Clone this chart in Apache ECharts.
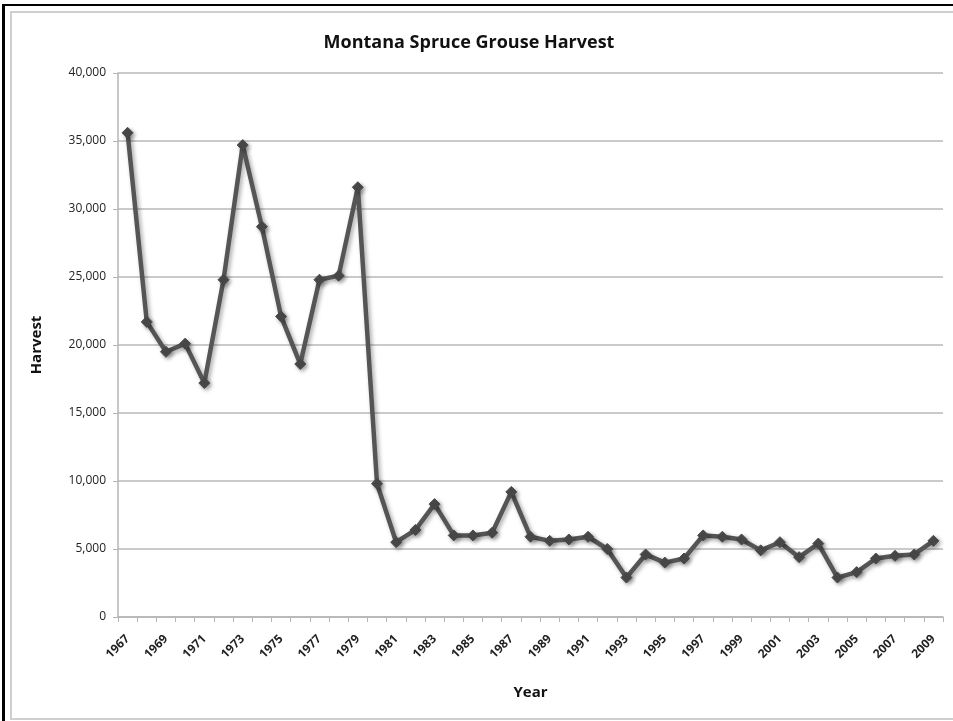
<!DOCTYPE html>
<html>
<head>
<meta charset="utf-8">
<script src="https://cdn.jsdelivr.net/npm/echarts@6/dist/echarts.min.js"></script>
<style>
  html, body { margin: 0; padding: 0; background: #fff; overflow: hidden; }
  #outer { position: absolute; left: 2px; top: 4px; width: 980px; height: 740px;
           border-left: 3px solid #000; border-top: 2px solid #000; box-sizing: border-box; }
  #frame { position: absolute; left: 10px; top: 11px; width: 980px; height: 709px;
           border: 2px solid #cfcfcf; border-right: none; box-sizing: border-box; }
  #chart { position: absolute; left: 0; top: 0; width: 953px; height: 721px; }
</style>
</head>
<body>
<div id="outer"></div>
<div id="frame"></div>
<div id="chart"></div>
<script>
// years 1967..2009
const years = [];
for (let y = 1967; y <= 2009; y++) years.push(String(y));

const harvest = [
  35600, 21700, 19500, 20100, 17200, 24800, 34700, 28700, 22100, 18600,
  24800, 25100, 31600, 9800, 5500, 6400, 8300, 6000, 6000, 6200,
  9200, 5900, 5600, 5700, 5900, 5000, 2900, 4600, 4000, 4300,
  6000, 5900, 5700, 4900, 5500, 4400, 5400, 2900, 3300, 4300,
  4500, 4600, 5600
];

const yTicks = [0, 5000, 10000, 15000, 20000, 25000, 30000, 35000, 40000];

const font = '"Open Sans", "Liberation Sans", sans-serif';

const chart = echarts.init(document.getElementById('chart'));
chart.setOption({
  animation: false,
  title: {
    text: 'Montana Spruce Grouse Harvest',
    left: 464, top: 29, textAlign: 'center',
    textStyle: { fontFamily: font, fontSize: 18, fontWeight: 'bold', color: '#111' }
  },
  grid: { left: 118, top: 73, width: 825, height: 544 },
  xAxis: {
    type: 'category',
    data: years,
    boundaryGap: true,
    name: 'Year',
    nameLocation: 'middle',
    nameGap: 68,
    nameTextStyle: { fontFamily: font, fontSize: 15, fontWeight: 'bold', color: '#111' },
    axisLine: { lineStyle: { color: '#b5b5b5', width: 1.5 } },
    axisTick: { show: true, interval: 0, length: 5, lineStyle: { color: '#b5b5b5' } },
    axisLabel: {
      interval: 1, rotate: 45, fontFamily: font, fontSize: 12, fontWeight: 'bold',
      color: '#222', margin: 20
    },
    splitLine: { show: false }
  },
  yAxis: {
    type: 'value',
    min: yTicks[0], max: yTicks[yTicks.length - 1], interval: 5000,
    name: 'Harvest',
    nameLocation: 'middle',
    nameGap: 74,
    nameRotate: 90,
    nameTextStyle: { fontFamily: font, fontSize: 15, fontWeight: 'bold', color: '#111' },
    axisLine: { show: true, lineStyle: { color: '#b5b5b5', width: 1.5 } },
    axisTick: { show: true, length: 5, lineStyle: { color: '#b5b5b5' } },
    axisLabel: {
      fontFamily: font, fontSize: 12, color: '#222', margin: 12,
      formatter: v => v.toLocaleString('en-US')
    },
    splitLine: { lineStyle: { color: '#b8b8b8', width: 1.5 } }
  },
  series: [{
    type: 'line',
    data: harvest,
    symbol: 'diamond',
    symbolSize: 11,
    lineStyle: {
      color: '#555', width: 4.5,
      shadowColor: 'rgba(0,0,0,0.35)', shadowBlur: 4, shadowOffsetX: 2, shadowOffsetY: 2
    },
    itemStyle: {
      color: '#4a4a4a', borderColor: '#4a4a4a',
      shadowColor: 'rgba(0,0,0,0.35)', shadowBlur: 4, shadowOffsetX: 2, shadowOffsetY: 2
    }
  }]
});
</script>
</body>
</html>
